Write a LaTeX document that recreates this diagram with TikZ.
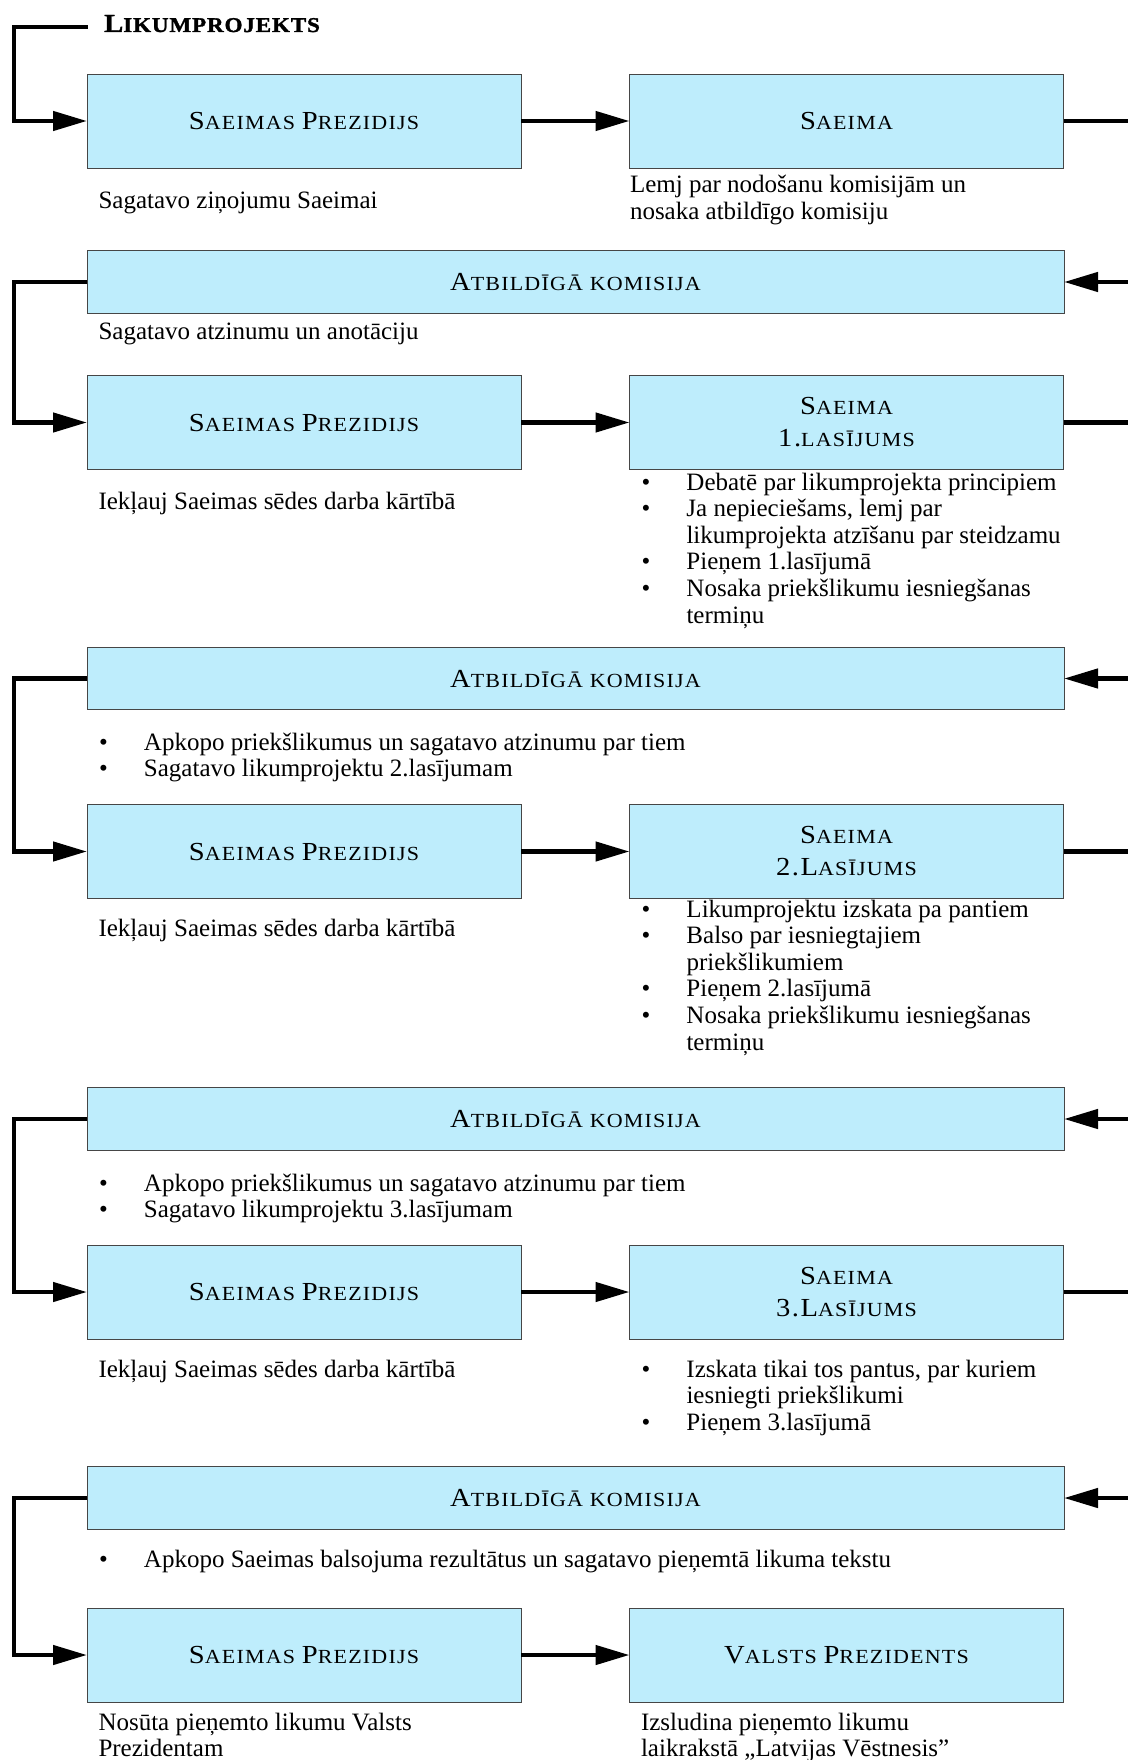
\documentclass[tikz,border=0pt]{standalone}
\usepackage{fontspec}
\setmainfont{Liberation Serif}
\newfontfamily\boxfont[FakeStretch=1.1,LetterSpace=6]{Liberation Serif}
\newfontfamily\lkfont[FakeStretch=1.1,LetterSpace=4,FakeBold=1.5]{Liberation Serif Bold}
\usetikzlibrary{arrows.meta}
\definecolor{boxfill}{RGB}{190,237,252}
\definecolor{boxline}{RGB}{70,70,70}
\newcommand\Lc[1]{{\fontsize{26}{32}\selectfont #1}}
\newcommand\Sc[1]{{\fontsize{20}{32}\selectfont #1}}
\newcommand\bul{\makebox[45pt][l]{•}}
\newcommand\ind{\hspace*{45pt}}
\newcommand\tstrut{\rule{0pt}{19pt}}
\begin{document}
\begin{tikzpicture}[x=1pt,y=-1pt,
  box/.style={draw=boxline, line width=0.9pt, fill=boxfill, inner sep=0pt, outer sep=0pt,
              font=\boxfont\fontsize{26}{32}\selectfont},
  narrow/.style={box, minimum width=434pt, minimum height=94pt},
  wide/.style={box, minimum width=977pt, minimum height=62.5pt},
  one/.style={text height=17pt, text depth=0pt},
  two/.style={align=center},
  conn/.style={line width=4.5pt, -{Triangle[length=34pt,width=19pt]}},
  body/.style={inner sep=0pt, outer sep=0pt, font=\fontsize{25}{26.6}\selectfont, align=left}
]
\useasboundingbox (0,0) rectangle (1127,1760);
\fill[white] (0,0) rectangle (1127,1760);

% title
\node[anchor=base west, inner sep=0pt, font=\lkfont] (lk) at (104,32)
  {\fontsize{26}{30}\selectfont L\fontsize{21}{30}\selectfont IKUMPROJEKTS};
\coordinate (lkstart) at (87.5,27);

% row 1
\node[narrow, one] (sp1) at (304,121) {\Lc{S}\Sc{AEIMAS }\Lc{P}\Sc{REZIDIJS}};
\node[narrow, one] (sa1) at (846.5,121) {\Lc{S}\Sc{AEIMA}};
\node[body, anchor=base west] (t1) at (98.5,208.5) {Sagatavo ziņojumu Saeimai};
\node[body, anchor=north west] (t2) at (630,174) {\tstrut Lemj par nodošanu komisijām un\\nosaka atbildīgo komisiju};

\node[wide, one] (atb1) at (575.5,282) {\Lc{A}\Sc{TBILDĪGĀ KOMISIJA}};
\node[body, anchor=base west] (t3) at (98.5,339) {Sagatavo atzinumu un anotāciju};

% row 2
\node[narrow, one] (sp2) at (304,422.5) {\Lc{S}\Sc{AEIMAS }\Lc{P}\Sc{REZIDIJS}};
\node[narrow, two] (sa2) at (846.5,422.5) {\Lc{S}\Sc{AEIMA}\\\Lc{1.}\Sc{LASĪJUMS}};
\node[body, anchor=base west] (t4) at (98.5,509) {Iekļauj Saeimas sēdes darba kārtībā};
\node[body, anchor=north west] (b1) at (641.5,471) {\tstrut\bul Debatē par likumprojekta principiem\\
  \bul Ja nepieciešams, lemj par\\
  \ind likumprojekta atzīšanu par steidzamu\\
  \bul Pieņem 1.lasījumā\\
  \bul Nosaka priekšlikumu iesniegšanas\\
  \ind termiņu};

\node[wide, one] (atb2) at (575.5,678.5) {\Lc{A}\Sc{TBILDĪGĀ KOMISIJA}};
\node[body, anchor=north west] (b2) at (99,731) {\tstrut\bul Apkopo priekšlikumus un sagatavo atzinumu par tiem\\
  \bul Sagatavo likumprojektu 2.lasījumam};

% row 3
\node[narrow, one] (sp3) at (304,851.5) {\Lc{S}\Sc{AEIMAS }\Lc{P}\Sc{REZIDIJS}};
\node[narrow, two] (sa3) at (846.5,851.5) {\Lc{S}\Sc{AEIMA}\\\Lc{2.L}\Sc{ASĪJUMS}};
\node[body, anchor=base west] (t5) at (98.5,936) {Iekļauj Saeimas sēdes darba kārtībā};
\node[body, anchor=north west] (b3) at (641.5,898) {\tstrut\bul Likumprojektu izskata pa pantiem\\
  \bul Balso par iesniegtajiem\\
  \ind priekšlikumiem\\
  \bul Pieņem 2.lasījumā\\
  \bul Nosaka priekšlikumu iesniegšanas\\
  \ind termiņu};

\node[wide, one] (atb3) at (575.5,1119) {\Lc{A}\Sc{TBILDĪGĀ KOMISIJA}};
\node[body, anchor=north west] (b4) at (99,1172) {\tstrut\bul Apkopo priekšlikumus un sagatavo atzinumu par tiem\\
  \bul Sagatavo likumprojektu 3.lasījumam};

% row 4
\node[narrow, one] (sp4) at (304,1292) {\Lc{S}\Sc{AEIMAS }\Lc{P}\Sc{REZIDIJS}};
\node[narrow, two] (sa4) at (846.5,1292) {\Lc{S}\Sc{AEIMA}\\\Lc{3.L}\Sc{ASĪJUMS}};
\node[body, anchor=base west] (t6) at (98.5,1377.6) {Iekļauj Saeimas sēdes darba kārtībā};
\node[body, anchor=north west] (b5) at (641.5,1358) {\tstrut\bul Izskata tikai tos pantus, par kuriem\\
  \ind iesniegti priekšlikumi\\
  \bul Pieņem 3.lasījumā};

\node[wide, one] (atb4) at (575.5,1498) {\Lc{A}\Sc{TBILDĪGĀ KOMISIJA}};
\node[body, anchor=base west] (b6) at (99,1567) {\bul Apkopo Saeimas balsojuma rezultātus un sagatavo pieņemtā likuma tekstu};

% row 5
\node[narrow, one] (sp5) at (304,1655) {\Lc{S}\Sc{AEIMAS }\Lc{P}\Sc{REZIDIJS}};
\node[narrow, one] (vp) at (846.5,1655) {\Lc{V}\Sc{ALSTS }\Lc{P}\Sc{REZIDENTS}};
\node[body, anchor=north west] (t7) at (98.5,1711) {\tstrut Nosūta pieņemto likumu Valsts\\Prezidentam};
\node[body, anchor=north west] (t8) at (641,1711) {\tstrut Izsludina pieņemto likumu\\laikrakstā „Latvijas Vēstnesis”};

% connectors
\draw[conn] (lkstart) -- (14,27) |- (sp1.west);
\draw[conn] (sp1.east) -- (sa1.west);
\draw[conn] (sa1.east) -- ++(90,0) |- (atb1.east);
\draw[conn] (atb1.west) -- ++(-73,0) |- (sp2.west);
\draw[conn] (sp2.east) -- (sa2.west);
\draw[conn] (sa2.east) -- ++(90,0) |- (atb2.east);
\draw[conn] (atb2.west) -- ++(-73,0) |- (sp3.west);
\draw[conn] (sp3.east) -- (sa3.west);
\draw[conn] (sa3.east) -- ++(90,0) |- (atb3.east);
\draw[conn] (atb3.west) -- ++(-73,0) |- (sp4.west);
\draw[conn] (sp4.east) -- (sa4.west);
\draw[conn] (sa4.east) -- ++(90,0) |- (atb4.east);
\draw[conn] (atb4.west) -- ++(-73,0) |- (sp5.west);
\draw[conn] (sp5.east) -- (vp.west);
\end{tikzpicture}
\end{document}
